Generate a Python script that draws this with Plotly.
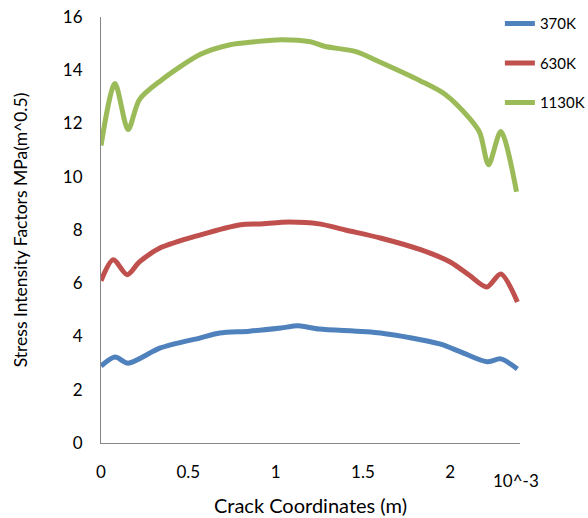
import plotly.graph_objects as go

x_370 = [0.0, 0.08, 0.155, 0.34, 0.57, 0.68, 0.85, 1.03, 1.13, 1.25, 1.6, 1.94, 2.06, 2.21, 2.29, 2.385]
y_370 = [2.89, 3.23, 3.0, 3.57, 3.95, 4.13, 4.2, 4.32, 4.4, 4.28, 4.13, 3.72, 3.42, 3.05, 3.16, 2.78]

x_630 = [0.0, 0.07, 0.15, 0.22, 0.34, 0.57, 0.8, 0.91, 1.08, 1.25, 1.4, 1.6, 1.83, 2.0, 2.11, 2.21, 2.29, 2.385]
y_630 = [6.09, 6.88, 6.32, 6.8, 7.33, 7.82, 8.2, 8.23, 8.3, 8.23, 8.0, 7.7, 7.26, 6.8, 6.3, 5.86, 6.35, 5.3]

x_1130 = [0.0, 0.08, 0.155, 0.22, 0.34, 0.57, 0.74, 0.88, 1.03, 1.2, 1.28, 1.46, 1.6, 1.83, 1.97, 2.11, 2.17, 2.22, 2.29, 2.38]
y_1130 = [11.17, 13.5, 11.77, 12.9, 13.6, 14.6, 14.96, 15.07, 15.15, 15.07, 14.9, 14.7, 14.3, 13.6, 13.1, 12.2, 11.65, 10.45, 11.7, 9.44]

names = ["370K", "630K", "1130K"]
colors = ["#4F81BD", "#C0504D", "#9BBB59"]

x_ticks = [0, 0.5, 1, 1.5, 2]
x_tick_text = ["0", "0.5", "1", "1.5", "2"]
y_ticks = [0, 2, 4, 6, 8, 10, 12, 14, 16]

FONT = "Lato, Carlito, Calibri, sans-serif"

fig = go.Figure()
for xs, ys, nm, c in zip([x_370, x_630, x_1130], [y_370, y_630, y_1130], names, colors):
    fig.add_trace(go.Scatter(x=xs, y=ys, name=nm, mode="lines", legendgroup=nm,
                             line=dict(color=c, width=5, shape="spline", smoothing=0.8)))

fig.update_layout(
    width=588, height=518,
    margin=dict(l=101, r=68, t=17, b=75, autoexpand=False),
    paper_bgcolor="white", plot_bgcolor="white",
    font=dict(family=FONT, size=16, color="#000000"),
    showlegend=True,
    legend=dict(x=0.952, y=1.023, xref="paper", yref="paper", xanchor="left", yanchor="top",
                font=dict(size=15, family=FONT), tracegroupgap=17,
                bgcolor="rgba(0,0,0,0)"),
    xaxis=dict(range=[0, 2.4], tickvals=x_ticks, ticktext=x_tick_text, showgrid=False,
               zeroline=False, showline=True, linecolor="#868686", linewidth=1,
               ticks="", tickfont=dict(size=17), ticklabelstandoff=14, automargin=False,
               ticklabeloverflow="allow",
               title=dict(text="Crack Coordinates (m)", font=dict(size=20), standoff=17)),
    yaxis=dict(range=[0, 16], tickvals=y_ticks, showgrid=False, zeroline=False,
               showline=True, linecolor="#868686", linewidth=1, ticks="",
               tickfont=dict(size=17), ticklabelstandoff=14, automargin=False,
               ticklabeloverflow="allow",
               title=dict(text="Stress Intensity Factors MPa(m^0.5)", font=dict(size=17.5), standoff=30)),
)

fig.add_annotation(text="10^-3", x=0.99, y=-0.087, xref="paper", yref="paper",
                   xanchor="center", yanchor="middle", showarrow=False,
                   font=dict(size=17, family=FONT))

fig.write_html("out.html", config={"displayModeBar": False},
               post_script="document.body.style.margin='0px';")
